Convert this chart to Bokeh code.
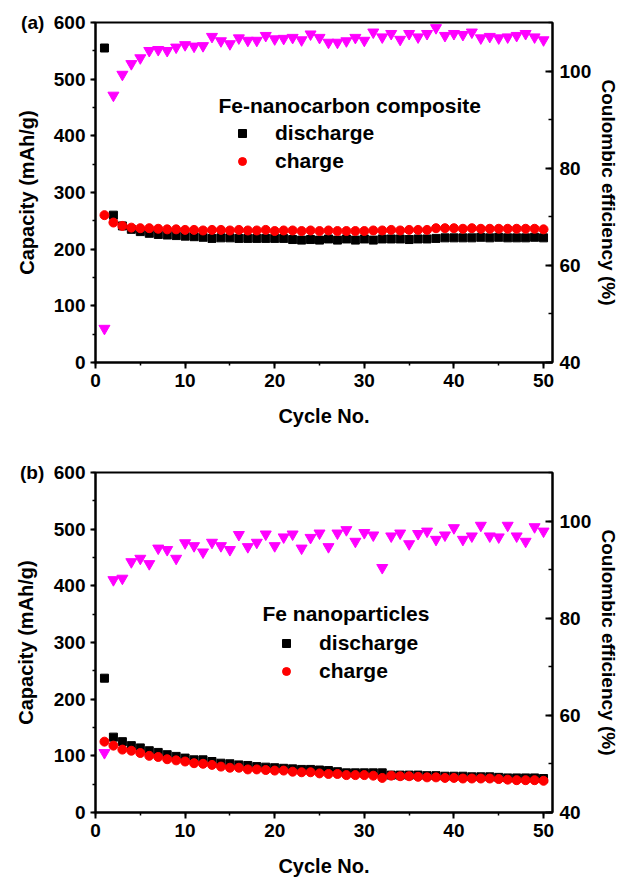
from bokeh.plotting import figure
from bokeh.models import Range1d, LinearAxis, SingleIntervalTicker, Label, Legend, LegendItem
from bokeh.layouts import column
from bokeh.embed import file_html
from bokeh.resources import INLINE

# ---------------- data ----------------
cycles = list(range(1, 51))

a_discharge = [555, 260, 241, 235, 231, 228, 226, 225, 224, 223,
               222, 221, 219, 220, 220, 219, 219, 219, 219, 219,
               219, 217, 216, 217, 216, 218, 216, 218, 216, 218,
               216, 218, 218, 218, 217, 218, 218, 219, 220, 220,
               220, 220, 221, 220, 221, 220, 220, 220, 221, 220]
a_charge = [260, 247, 241, 238, 237, 237, 236, 235, 235, 234,
            234, 233, 234, 234, 233, 234, 233, 233, 234, 232,
            233, 233, 232, 233, 232, 233, 232, 232, 232, 232,
            233, 233, 234, 233, 234, 234, 234, 237, 237, 237,
            236, 237, 236, 236, 236, 236, 236, 236, 236, 235]
a_ce = [47.0, 95.0, 99.3, 101.5, 102.7, 104.2, 104.4, 104.2, 104.9, 105.4,
        105.1, 105.2, 107.1, 106.2, 105.6, 106.8, 106.3, 106.3, 107.3, 106.6,
        106.7, 106.9, 106.4, 107.6, 106.9, 105.9, 105.9, 106.2, 106.9, 106.3,
        108.0, 107.0, 107.7, 106.5, 107.7, 107.0, 107.7, 108.9, 107.3, 107.7,
        107.5, 108.0, 106.8, 107.1, 106.8, 107.0, 107.3, 107.7, 107.0, 106.4]

b_discharge = [237, 133, 125, 118, 114, 109, 106, 102, 99, 96,
               93, 93, 90, 87, 86, 84, 83, 81, 80, 79,
               78, 77, 76, 76, 75, 74, 72, 70, 70, 70,
               70, 70, 66, 66, 66, 66, 65, 65, 64, 64,
               64, 63, 63, 63, 62, 61, 61, 61, 61, 60]
b_charge = [125, 118, 111, 109, 105, 100, 98, 94, 92, 90,
            87, 86, 84, 81, 79, 79, 76, 76, 75, 74,
            74, 72, 71, 71, 69, 68, 68, 66, 66, 66,
            65, 61, 65, 64, 64, 63, 62, 62, 61, 61,
            60, 60, 60, 60, 59, 58, 57, 57, 57, 56]
b_ce = [52.3, 87.9, 88.2, 91.6, 92.3, 91.2, 94.4, 94.1, 92.3, 95.5,
        94.9, 93.6, 95.6, 94.9, 94.1, 97.2, 94.7, 95.6, 97.3, 94.9,
        96.7, 97.3, 94.4, 96.6, 97.5, 94.7, 97.5, 98.2, 95.8, 97.6,
        97.1, 90.4, 96.9, 97.5, 95.3, 97.4, 97.9, 96.2, 97.1, 98.6,
        96.2, 96.9, 99.1, 96.9, 96.7, 99.1, 96.9, 95.8, 98.8, 97.9]

x_ticks_interval = 10
cap_ticks_interval = 100
ce_ticks_interval = 20

FONT = "Liberation Sans"


def style_axis(ax, tick_font="19px", label_font="20px"):
    ax.axis_line_width = 2
    ax.axis_line_color = "black"
    ax.major_tick_line_width = 2
    ax.minor_tick_line_width = 1.5
    ax.major_label_text_font = FONT
    ax.major_label_text_font_style = "bold"
    ax.major_label_text_font_size = tick_font
    ax.major_label_text_color = "black"
    ax.axis_label_text_font = FONT
    ax.axis_label_text_font_style = "bold"
    ax.axis_label_text_font_size = label_font
    ax.axis_label_text_color = "black"


def make_panel(tag, legend_title, dis, chg, ce, height, b_top, b_bottom,
               leg_loc, title_xy):
    p = figure(width=625, height=height,
               x_range=Range1d(0, 51), y_range=Range1d(0, 600),
               output_backend="svg", toolbar_location=None,
               min_border_left=95, min_border_right=73,
               min_border_top=b_top, min_border_bottom=b_bottom)
    p.extra_y_ranges = {"ce": Range1d(40, 110)}
    p.grid.visible = False
    p.outline_line_color = "black"
    p.outline_line_width = 2
    p.background_fill_color = "white"
    p.border_fill_color = "white"

    xa = p.xaxis[0]
    xa.ticker = SingleIntervalTicker(interval=x_ticks_interval, num_minor_ticks=2)
    xa.axis_label = "Cycle No."
    xa.major_tick_out = 6
    xa.major_tick_in = 0
    xa.minor_tick_out = 3
    xa.minor_tick_in = 0
    xa.major_label_standoff = 5
    xa.axis_label_standoff = 15
    style_axis(xa)

    ya = p.yaxis[0]
    ya.ticker = SingleIntervalTicker(interval=cap_ticks_interval, num_minor_ticks=2)
    ya.axis_label = "Capacity (mAh/g)"
    ya.major_tick_out = 5
    ya.major_tick_in = 0
    ya.minor_tick_out = 3
    ya.minor_tick_in = 0
    ya.major_label_standoff = 5
    ya.axis_label_standoff = -20
    # panel tag shares the line of the top tick label, as in the original
    ya.major_label_overrides = {600: tag + "\u2002600"}
    style_axis(ya)

    ra = LinearAxis(y_range_name="ce",
                    ticker=SingleIntervalTicker(interval=ce_ticks_interval, num_minor_ticks=2),
                    axis_label="Coulombic efficiency (%)")
    ra.major_tick_out = 0
    ra.major_tick_in = 7
    ra.minor_tick_out = 0
    ra.minor_tick_in = 4
    ra.major_label_standoff = 7
    ra.axis_label_standoff = 4
    style_axis(ra, tick_font="19px", label_font="19px")
    p.add_layout(ra, "right")

    r_dis = p.scatter(cycles, dis, marker="square", size=8,
                      fill_color="black", line_color="black")
    r_chg = p.scatter(cycles, chg, marker="circle", size=9,
                      fill_color="#ff0000", line_color="#ff0000")
    p.scatter(cycles, ce, marker="inverted_triangle", size=11,
              fill_color="#ff00ff", line_color="#ff00ff", y_range_name="ce")

    legend = Legend(items=[LegendItem(label="discharge", renderers=[r_dis]),
                           LegendItem(label="charge", renderers=[r_chg])],
                    location=leg_loc, glyph_width=20, glyph_height=24,
                    label_height=24, spacing=4, padding=0, margin=0,
                    label_standoff=23, border_line_color=None,
                    background_fill_alpha=0,
                    label_text_font=FONT, label_text_font_style="bold",
                    label_text_font_size="21px", label_text_color="black")
    p.add_layout(legend)

    p.add_layout(Label(x=title_xy[0], y=title_xy[1], x_units="screen", y_units="screen",
                       text=legend_title, text_baseline="middle",
                       text_font=FONT, text_font_style="bold",
                       text_font_size="21px", text_color="black"))
    return p


p1 = make_panel("(a)", "Fe-nanocarbon composite", a_discharge, a_charge, a_ce,
                height=448, b_top=22, b_bottom=86,
                leg_loc=(137, 189), title_xy=(123, 257))
p2 = make_panel("(b)", "Fe nanoparticles", b_discharge, b_charge, b_ce,
                height=434, b_top=24, b_bottom=70,
                leg_loc=(181, 129), title_xy=(167, 199))

layout = column(p1, p2, spacing=0)
open("out.html", "w").write(file_html(layout, INLINE))
